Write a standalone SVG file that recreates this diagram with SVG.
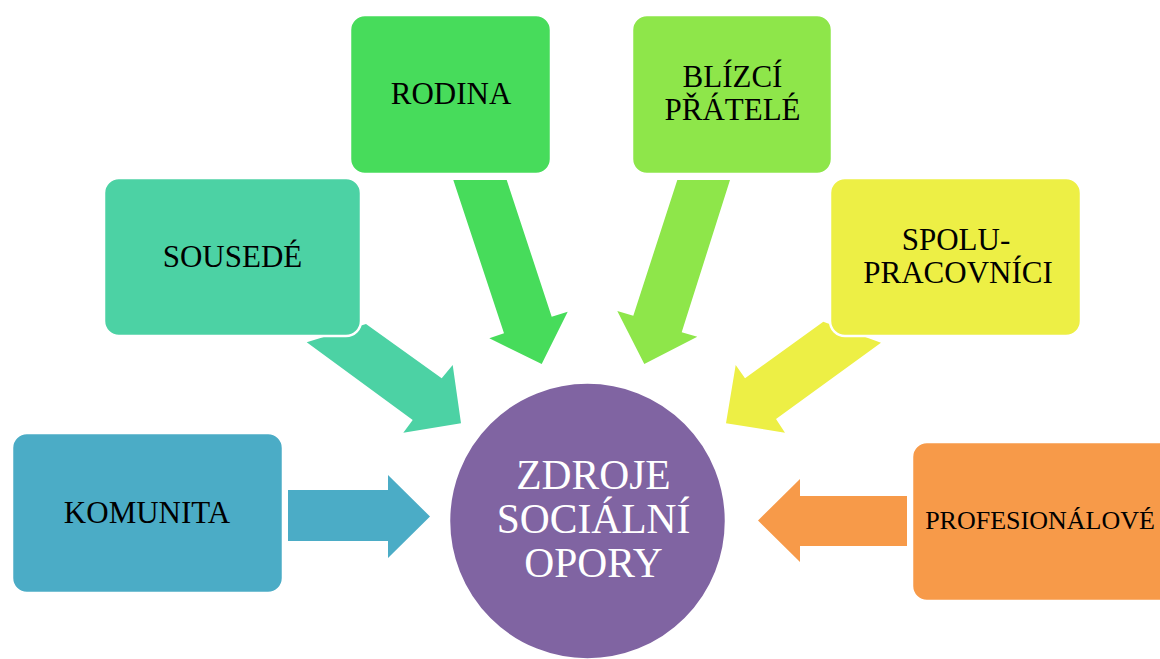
<svg xmlns="http://www.w3.org/2000/svg" width="1160" height="659" viewBox="0 0 1160 659">
<style>
.box{stroke:#fff;stroke-width:2.5}
.t{font-family:"Liberation Serif","Times New Roman",serif;font-size:31px;fill:#000;text-anchor:middle}
.c{font-family:"Liberation Serif","Times New Roman",serif;font-size:41.5px;fill:#fff;text-anchor:middle}
</style>
<rect width="1160" height="659" fill="#fff"/>
<g id="connectors">
<polygon fill="#4BACC6" points="288,490 388,490 388,475 430,516.5 388,558 388,541 288,541"/>
<polygon fill="#F79A49" points="907,496 800,496 800,479 758,520.5 800,562 800,546 907,546"/>
<polygon fill="#4CD2A4" points="306.7,342.3 366,324 441.7,378.3 452.7,365 461,423.3 403.3,432.7 412.7,420"/>
<polygon fill="#47DC5B" points="453.3,180 506.7,180 551.7,316.7 567.7,311.7 541.7,364 489.3,338.3 504,333.3"/>
<polygon fill="#8EE64A" points="677.3,180 730,180 681.7,332.3 697.3,336.7 644.3,364 617.3,311 633.3,315.7"/>
<polygon fill="#EDEF45" points="823.3,321.7 881,342.7 776,419 785,432.7 726,423.3 735.7,365 745,378.3"/>
</g>
<g id="komunita"><rect class="box" x="12" y="433" width="271" height="160" rx="15" fill="#4BACC6"/><text class="t" x="147" y="522.5">KOMUNITA</text></g>
<g id="sousede"><rect class="box" x="104" y="178" width="257" height="158" rx="15" fill="#4CD2A4"/><text class="t" x="232.5" y="267">SOUSEDÉ</text></g>
<g id="rodina"><rect class="box" x="350" y="15" width="201" height="159" rx="15" fill="#47DC5B"/><text class="t" x="451" y="104.3">RODINA</text></g>
<g id="blizci"><rect class="box" x="632" y="15" width="200" height="159" rx="15" fill="#8EE64A"/><text class="t" x="732.5" y="87.3">BLÍZCÍ</text><text class="t" x="732.5" y="120">PŘÁTELÉ</text></g>
<g id="spolupracovnici"><rect class="box" x="830" y="178" width="251" height="158" rx="15" fill="#EDEF45"/><text class="t" x="956" y="250">SPOLU-</text><text class="t" x="958" y="283.3">PRACOVNÍCI</text></g>
<g id="profesionalove"><rect class="box" x="912" y="442" width="262" height="159" rx="15" fill="#F79A49"/><text class="t" x="1040" y="529.3" style="font-size:26px">PROFESIONÁLOVÉ</text></g>
<g id="zdroje"><circle class="box" cx="587.5" cy="521" r="138.5" fill="#8064A2"/><text class="c" x="593.5" y="489">ZDROJE</text><text class="c" x="593.5" y="532.7">SOCIÁLNÍ</text><text class="c" x="593.5" y="576.7">OPORY</text></g>
</svg>
